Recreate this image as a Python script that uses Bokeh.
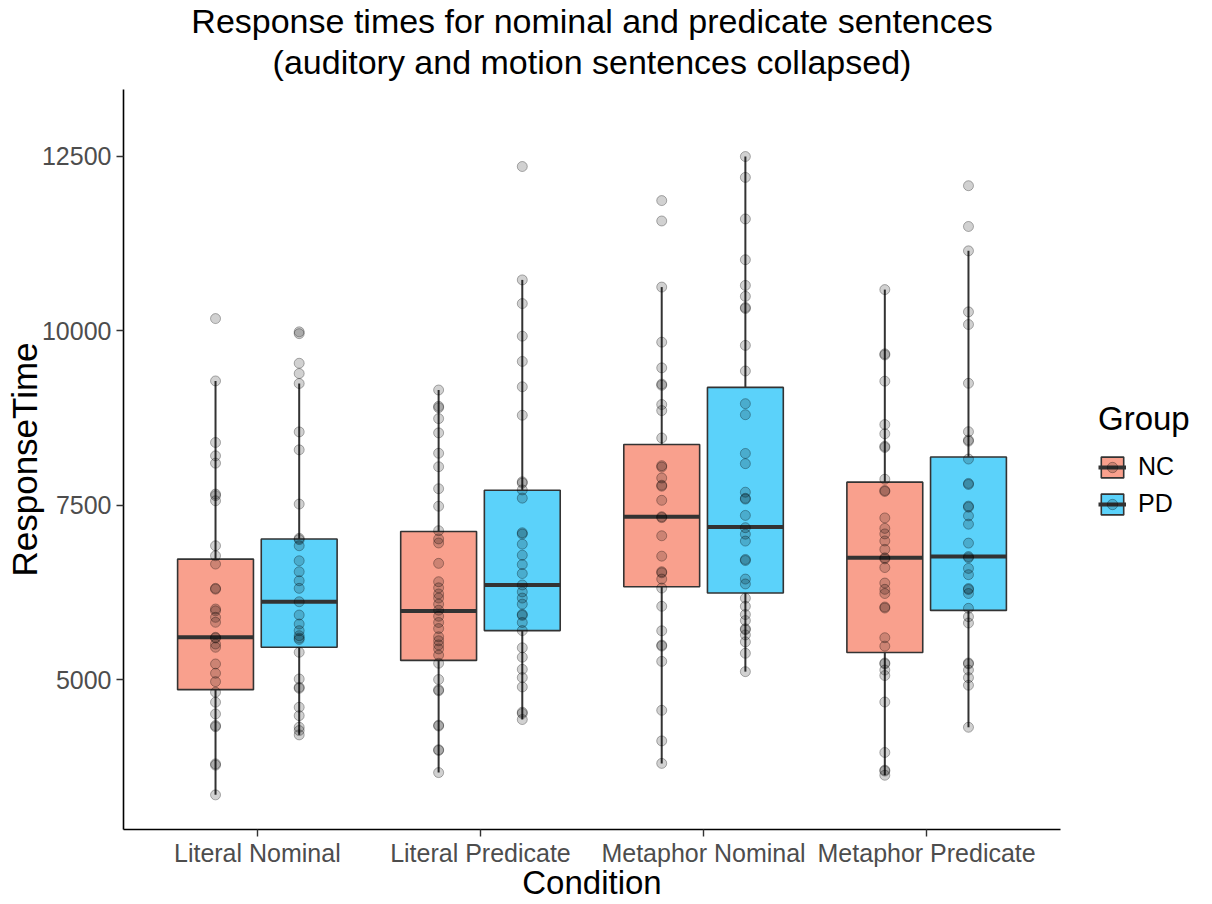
from bokeh.plotting import figure
from bokeh.models import FactorRange, Range1d, ColumnDataSource, FixedTicker, Legend, LegendItem, Title
from bokeh.transform import dodge
from bokeh.embed import file_html
from bokeh.resources import INLINE

conditions = ["Literal Nominal", "Literal Predicate", "Metaphor Nominal", "Metaphor Predicate"]
groups = ["NC", "PD"]

# box statistics (per condition)
nc_q1 = [4861, 5280, 6334, 5394]
nc_med = [5611, 5987, 7338, 6749]
nc_q3 = [6731, 7126, 8373, 7833]
nc_lo = [3354, 3673, 3805, 3635]
nc_hi = [9283, 9153, 10627, 10591]

pd_q1 = [5468, 5707, 6246, 5996]
pd_med = [6120, 6361, 7192, 6767]
pd_q3 = [7018, 7716, 9190, 8194]
pd_lo = [4213, 4433, 5119, 4322]
pd_hi = [9246, 10730, 12497, 11146]

# individual response times
nc_literal_nominal = [10176, 9283, 8401, 8210, 8105, 7662, 7640, 7566, 6922, 6779, 6660, 6312, 6300, 6016, 5990,
                      5897, 5826, 5611, 5600, 5515, 5468, 5229, 5096, 4976, 4824, 4681, 4513, 4346, 4330, 3798,
                      3780, 3354]
pd_literal_nominal = [9986, 9960, 9536, 9389, 9246, 8553, 8296, 7519, 7028, 7010, 6922, 6707, 6550, 6421, 6312,
                      6120, 5930, 5801, 5706, 5634, 5600, 5580, 5396, 5014, 4895, 4880, 4609, 4489, 4323, 4275,
                      4213]
nc_literal_predicate = [9153, 8919, 8900, 8743, 8539, 8247, 8054, 7739, 7488, 7138, 7020, 6962, 6670, 6407, 6319,
                        6232, 6173, 6086, 5999, 5912, 5823, 5736, 5618, 5561, 5502, 5444, 5356, 5239, 5006, 4860,
                        4845, 4352, 4340, 4001, 3990, 3673]
pd_literal_predicate = [12354, 10730, 10391, 9924, 9562, 9199, 8791, 7838, 7820, 7722, 7604, 7108, 7090, 6945,
                        6787, 6653, 6524, 6361, 6261, 6173, 6086, 5940, 5925, 5823, 5707, 5461, 5326, 5152, 5034,
                        4900, 4538, 4520, 4433]
nc_metaphor_nominal = [11866, 11574, 10627, 9838, 9470, 9237, 9220, 8945, 8858, 8466, 8069, 8050, 7893, 7789, 7775,
                       7573, 7338, 7325, 7065, 6773, 6550, 6535, 6445, 6316, 6055, 5704, 5499, 5485, 5266, 4565,
                       4127, 3805]
pd_metaphor_nominal = [12497, 12198, 11603, 11019, 10651, 10494, 10335, 10320, 9792, 9425, 8957, 8799, 8244, 8098,
                       7689, 7602, 7590, 7357, 7181, 7088, 6989, 6726, 6710, 6445, 6375, 6171, 6055, 5937, 5850,
                       5733, 5720, 5645, 5545, 5382, 5119]
nc_metaphor_predicate = [10591, 9671, 9655, 9279, 8658, 8526, 8346, 8330, 7875, 7713, 7700, 7321, 7171, 7092, 6991,
                         6870, 6749, 6735, 6610, 6388, 6298, 6238, 6045, 6030, 5605, 5484, 5243, 5230, 5142, 5063,
                         4684, 3961, 3708, 3695, 3635]
pd_metaphor_predicate = [12079, 11495, 11146, 10272, 10091, 9249, 8556, 8436, 8420, 8164, 7815, 7800, 7490, 7475,
                         7351, 7231, 6960, 6767, 6750, 6598, 6508, 6309, 6295, 6238, 6026, 5906, 5816, 5243, 5230,
                         5142, 5033, 4924, 4322]

y_ticks = [5000, 7500, 10000, 12500]
title_lines = ["Response times for nominal and predicate sentences",
               "(auditory and motion sentences collapsed)"]

FONT = "Liberation Sans"
NC_FILL = "#F9A08D"
PD_FILL = "#5BD2FA"
EDGE = "#333333"

p = figure(frame_width=937, frame_height=740,
           x_range=FactorRange(factors=conditions, range_padding=0.05),
           y_range=Range1d(2858, 13457),
           output_backend="svg", toolbar_location=None,
           min_border_left=123, min_border_right=0, min_border_top=89, min_border_bottom=0)

p.title.visible = False
for txt, so in [(title_lines[1], 17), (title_lines[0], -15)]:
    p.add_layout(Title(text=txt, align="center", text_font=FONT, text_font_size="34px",
                       text_font_style="normal", text_color="black", standoff=so), "above")

p.xgrid.visible = False
p.ygrid.visible = False
p.outline_line_color = None
p.background_fill_color = "white"

p.yaxis.ticker = FixedTicker(ticks=y_ticks)
p.yaxis.minor_tick_line_color = None
for ax in (p.xaxis[0], p.yaxis[0]):
    ax.axis_line_color = "black"
    ax.axis_line_width = 1.6
    ax.major_tick_line_color = EDGE
    ax.major_tick_line_width = 1.4
    ax.major_tick_out = 7
    ax.major_tick_in = 0
    ax.major_label_text_font = FONT
    ax.major_label_text_font_size = "25px"
    ax.major_label_text_color = "#4D4D4D"
    ax.axis_label_text_font = FONT
    ax.axis_label_text_font_size = "33px"
    ax.axis_label_text_font_style = "normal"
    ax.axis_label_text_color = "black"
p.yaxis.axis_label_text_font_size = "35px"
p.xaxis.axis_label = "Condition"
p.yaxis.axis_label = "ResponseTime"
p.xaxis.major_label_standoff = 2
p.xaxis.axis_label_standoff = -6
p.yaxis.major_label_standoff = 5
p.yaxis.axis_label_standoff = -5

BOX_W = 0.34
OFF = 0.1875

legend_items = []
for grp, off, fill, q1, med, q3, lo, hi, pts in [
    ("NC", -OFF, NC_FILL, nc_q1, nc_med, nc_q3, nc_lo, nc_hi,
     [nc_literal_nominal, nc_literal_predicate, nc_metaphor_nominal, nc_metaphor_predicate]),
    ("PD", OFF, PD_FILL, pd_q1, pd_med, pd_q3, pd_lo, pd_hi,
     [pd_literal_nominal, pd_literal_predicate, pd_metaphor_nominal, pd_metaphor_predicate]),
]:
    box_src = ColumnDataSource(dict(cond=conditions, q1=q1, med=med, q3=q3, lo=lo, hi=hi))
    xc = dodge("cond", off, range=p.x_range)
    p.segment(x0=xc, y0="q3", x1=xc, y1="hi", source=box_src, line_color=EDGE, line_width=2)
    p.segment(x0=xc, y0="lo", x1=xc, y1="q1", source=box_src, line_color=EDGE, line_width=2)
    box = p.vbar(x=xc, width=BOX_W, bottom="q1", top="q3", source=box_src,
                 fill_color=fill, line_color=EDGE, line_width=1.6)
    med_r = p.segment(x0=dodge("cond", off - BOX_W / 2, range=p.x_range), y0="med",
                      x1=dodge("cond", off + BOX_W / 2, range=p.x_range), y1="med",
                      source=box_src, line_color=EDGE, line_width=4)
    pc, pv = [], []
    for c, vals in zip(conditions, pts):
        pc += [c] * len(vals)
        pv += vals
    pt_src = ColumnDataSource(dict(cond=pc, val=pv))
    pts_r = p.scatter(x=xc, y="val", source=pt_src, marker="circle", size=10,
                      fill_color="black", fill_alpha=0.18, line_color="black", line_alpha=0.3, line_width=1)
    legend_items.append(LegendItem(label=grp, renderers=[box, med_r, pts_r]))

legend = Legend(items=legend_items, title="Group", location="center_left")
legend.title_text_font = FONT
legend.title_text_font_size = "33px"
legend.title_text_font_style = "normal"
legend.title_text_color = "black"
legend.label_text_font = FONT
legend.label_text_font_size = "25px"
legend.label_text_color = "black"
legend.glyph_width = 28
legend.glyph_height = 26
legend.spacing = 8
legend.padding = 0
legend.margin = 38
legend.title_standoff = 14
legend.label_standoff = 12
legend.border_line_color = None
legend.background_fill_alpha = 0
p.add_layout(legend, "right")

open("out.html", "w").write(file_html(p, INLINE))
